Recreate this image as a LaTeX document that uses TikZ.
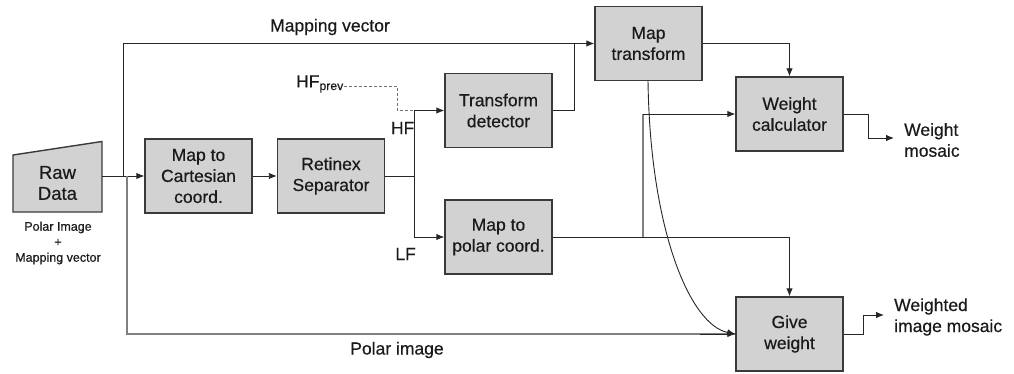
\documentclass[tikz,border=0pt]{standalone}
\usepackage{fontspec}
\setmainfont{Liberation Sans}[FakeBold=0.5]
\usetikzlibrary{arrows.meta}
\definecolor{boxfill}{HTML}{D2D2D2}
\definecolor{boxline}{HTML}{3A3A3A}
\definecolor{txt}{HTML}{1A1A1A}
\begin{document}
\begin{tikzpicture}[x=1pt,y=-1pt,
  blk/.style={draw=boxline,line width=1.4pt,fill=boxfill,minimum width=107pt,minimum height=74pt,
    align=center,inner sep=0pt,font=\fontsize{17.5}{21}\selectfont,text=txt},
  lbl/.style={font=\fontsize{17.5}{21}\selectfont,text=txt,inner sep=0pt,align=left},
  small/.style={font=\fontsize{12.5}{15.5}\selectfont,text=txt,inner sep=0pt,align=center},
  conn/.style={draw=black!85,line width=0.9pt},
  arr/.style={conn,-{Latex[length=8pt,width=6.5pt]}},
  graylink/.style={draw=black!50,line width=1.3pt}
]
\useasboundingbox (0,0) rectangle (1014,374);
% Raw data trapezoid
\draw[draw=boxline,line width=1.4pt,fill=boxfill] (13,155) -- (102,141.5) -- (102,212) -- (13,212) -- cycle;
\node[lbl,align=center,font=\fontsize{18.5}{21}\selectfont] (raw) at (57.5,183) {Raw\\Data};
\coordinate (rawout) at (102,176);
\node[small] (rawlbl) at (58,243) {Polar Image\\+\\Mapping vector};
% blocks
\node[blk] (cart) at (198.5,176) {Map to\\Cartesian\\coord.};
\node[blk] (ret) at (331,176) {Retinex\\Separator};
\node[blk] (tdet) at (498.5,110.5) {Transform\\detector};
\node[blk] (mpol) at (498.5,237) {Map to\\polar coord.};
\node[blk] (mtr) at (648.5,43.5) {Map\\transform};
\node[blk] (wcal) at (789.5,114) {Weight\\calculator};
\node[blk] (gw) at (789.5,334) {Give\\weight};
% labels
\node[lbl] (mvlbl) at (330,27) {Mapping vector};
\node[lbl] (pilbl) at (397,350) {Polar image};
\node[lbl,anchor=east] (hf) at (414.5,128) {HF};
\node[lbl,anchor=east] (lf) at (416,254) {LF};
\node[lbl,anchor=east] (hfp) at (344,84) {HF\textsubscript{prev}};
\node[lbl,anchor=west] (wm) at (904,140) {Weight\\mosaic};
\node[lbl,anchor=west] (wim) at (894,317) {Weighted\\image mosaic};
% junction coordinates
\coordinate (j1) at (123,176);
\coordinate (j2) at (127,176);
\coordinate (split) at (414,176);
\coordinate (hfpt) at (414,110.5);
\coordinate (lfpt) at (414,237);
\coordinate (tdj) at (574,43.5);
\coordinate (br) at (643,237);
\coordinate (wmend) at (894,138);
\coordinate (wimend) at (884,315);
% connectors
\draw[arr] (rawout) -- (cart.west);
\draw[arr] (cart.east) -- (ret.west);
\draw[conn] (ret.east) -- (split);
\draw[conn] (hfpt) -- (lfpt);
\draw[arr] (hfpt) -- (tdet.west);
\draw[arr] (lfpt) -- (mpol.west);
\draw[draw=black!55,line width=0.9pt,dash pattern=on 3pt off 2pt] (hfp.east |- 0,86) -- (397,86) -- (397,110.5) -- (hfpt);
\draw[conn] (tdet.east) -| (tdj);
\draw[arr] (j1) -- (123,43.5) -- (mtr.west);
\draw[arr] (mtr.east) -| (wcal.north);
\draw[arr] (mpol.east) -| (gw.north);
\draw[graylink] (br) -- (643,114);
\draw[arr] (643,114) -- (wcal.west);
\draw[graylink] (j2) -- (127,334) -- (gw.west);
\draw[arr] (700,334) -- (gw.west);
\draw[arr] (648,80.5) .. controls (650,230) and (690,325) .. (gw.west);
\draw[arr] (wcal.east) -- (868,114) -- (868,138) -- (wmend);
\draw[arr] (gw.east) -- (863,334) -- (863,315) -- (wimend);
\end{tikzpicture}
\end{document}
